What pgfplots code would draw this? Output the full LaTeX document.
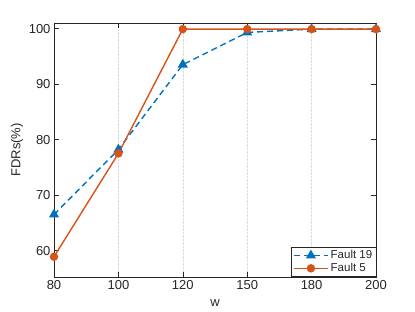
\documentclass[border=0pt]{standalone}
\usepackage{fontspec}
\setmainfont{Liberation Sans}
\usepackage{pgfplots}
\pgfplotsset{compat=1.18}
\definecolor{mblue}{rgb}{0,0.447,0.741}
\definecolor{morange}{rgb}{0.851,0.325,0.098}
\definecolor{axgray}{rgb}{0.15,0.15,0.15}
\begin{document}
\begin{tikzpicture}
\begin{axis}[
  at={(0pt,0pt)}, anchor=south west,
  scale only axis, width=322pt, height=254pt,
  xmin=0, xmax=5, ymin=55.25, ymax=101,
  xtick={0,1,2,3,4,5},
  xticklabels={80,100,120,150,180,200},
  ytick={60,70,80,90,100},
  tick align=inside, tick pos=both,
  major tick length=5pt,
  axis line style={axgray, line width=0.6pt},
  tick style={axgray, line width=0.5pt},
  xmajorgrids, ymajorgrids=false,
  grid style={densely dotted, gray!30, line width=0.5pt},
  /pgf/number format/assume math mode=true,
  ticklabel style={font=\fontsize{13}{15}\selectfont, text=axgray},
  xlabel={w}, ylabel={FDRs(\%)},
  label style={font=\fontsize{13}{15}\selectfont, text=axgray},
  xlabel style={at={(axis description cs:0.5,0)}, anchor=base, yshift=-30pt},
  ylabel style={at={(axis description cs:0,0.5)}, anchor=center, yshift=37pt},
  legend style={at={(1,0)}, anchor=south east, font=\fontsize{11.5}{13}\selectfont,
    text=axgray, draw=axgray, line width=0.5pt, inner sep=1.5pt, row sep=-1pt},
  legend cell align=left,
  legend image code/.code={\draw[mark repeat=2,mark phase=2]
    plot coordinates {(0cm,0cm) (0.6cm,0cm) (1.2cm,0cm)};},
]
\addplot[mblue, dash pattern=on 6pt off 4pt, line width=1.4pt, mark=triangle*, mark size=4.5pt,
  mark options={solid}] coordinates {
  (0,66.5) (1,78.2) (2,93.5) (3,99.3) (4,99.9) (5,99.9)};
\addlegendentry{Fault 19}
\addplot[morange, solid, line width=1.4pt, mark=*, mark size=3.5pt] coordinates {
  (0,58.9) (1,77.5) (2,99.9) (3,99.9) (4,99.9) (5,99.9)};
\addlegendentry{Fault 5}
\end{axis}
\path[use as bounding box] (-54pt,-35pt) rectangle (361pt,277pt);
\end{tikzpicture}
\end{document}
